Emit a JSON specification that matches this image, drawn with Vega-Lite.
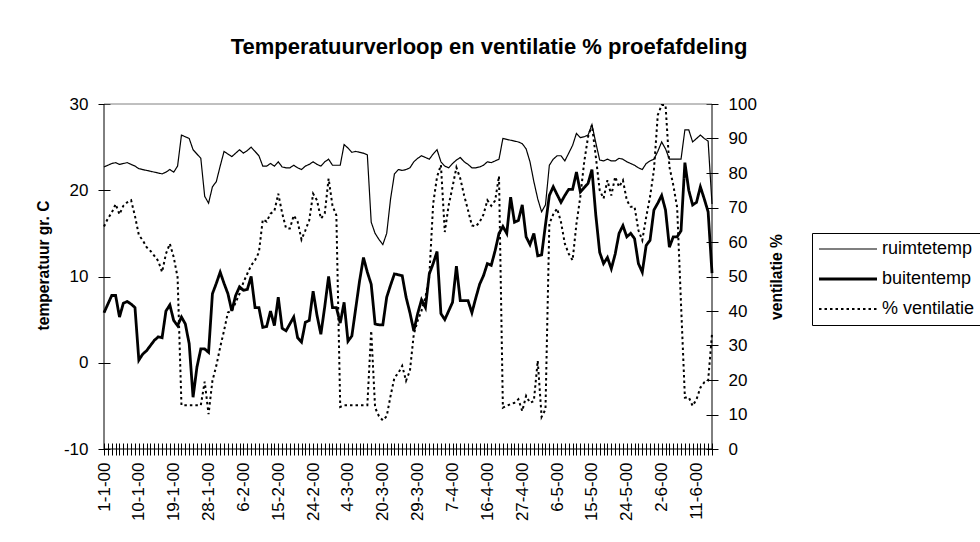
{
"$schema": "https://vega.github.io/schema/vega-lite/v6.json",
"width": 608, "height": 345,
"autosize": {"type": "none"},
"padding": {"left": 104, "top": 104, "right": 268, "bottom": 93},
"background": "white",
"config": {"view": {"stroke": null}, "font": "Liberation Sans"},
"title": {"text": "Temperatuurverloop en ventilatie % proefafdeling", "font": "Liberation Sans", "fontSize": 22, "fontWeight": "bold", "color": "black", "frame": "group", "anchor": "middle", "dx": 81, "offset": 36},
"data": {"values": [
{"d":"1-1-00","r":22.7,"b":5.8,"v":64.5},
{"d":"2-1-00","r":22.9,"b":6.8,"v":66.8},
{"d":"3-1-00","r":23.1,"b":7.8,"v":68.5},
{"d":"4-1-00","r":23.2,"b":7.8,"v":71.0},
{"d":"5-1-00","r":23.0,"b":5.3,"v":68.0},
{"d":"6-1-00","r":23.1,"b":6.9,"v":70.5},
{"d":"7-1-00","r":23.2,"b":7.1,"v":71.5},
{"d":"8-1-00","r":23.0,"b":6.8,"v":72.1},
{"d":"9-1-00","r":22.8,"b":6.4,"v":67.5},
{"d":"10-1-00","r":22.5,"b":0.3,"v":62.0},
{"d":"11-1-00","r":22.4,"b":1.0,"v":60.5},
{"d":"12-1-00","r":22.3,"b":1.4,"v":58.5},
{"d":"13-1-00","r":22.2,"b":2.0,"v":57.4},
{"d":"14-1-00","r":22.1,"b":2.6,"v":56.0},
{"d":"15-1-00","r":22.0,"b":3.0,"v":54.5},
{"d":"16-1-00","r":21.9,"b":2.9,"v":51.3},
{"d":"17-1-00","r":22.1,"b":6.0,"v":56.6},
{"d":"18-1-00","r":22.4,"b":6.7,"v":59.5},
{"d":"19-1-00","r":22.1,"b":4.9,"v":55.6},
{"d":"20-1-00","r":22.8,"b":4.3,"v":49.8},
{"d":"21-1-00","r":26.4,"b":5.3,"v":12.7},
{"d":"22-1-00","r":26.2,"b":4.5,"v":12.7},
{"d":"23-1-00","r":26.0,"b":2.2,"v":12.7},
{"d":"24-1-00","r":24.7,"b":-4.0,"v":12.7},
{"d":"25-1-00","r":24.2,"b":-0.5,"v":12.7},
{"d":"26-1-00","r":23.7,"b":1.6,"v":12.7},
{"d":"27-1-00","r":19.3,"b":1.6,"v":19.5},
{"d":"28-1-00","r":18.5,"b":1.2,"v":10.1},
{"d":"29-1-00","r":20.4,"b":8.0,"v":19.8},
{"d":"30-1-00","r":21.0,"b":9.2,"v":24.1},
{"d":"31-1-00","r":22.8,"b":10.5,"v":29.5},
{"d":"1-2-00","r":24.5,"b":9.2,"v":34.3},
{"d":"2-2-00","r":24.2,"b":8.0,"v":39.6},
{"d":"3-2-00","r":23.9,"b":6.0,"v":40.0},
{"d":"4-2-00","r":24.3,"b":7.8,"v":42.5},
{"d":"5-2-00","r":24.7,"b":8.8,"v":45.0},
{"d":"6-2-00","r":24.3,"b":8.4,"v":48.3},
{"d":"7-2-00","r":24.6,"b":8.5,"v":50.8},
{"d":"8-2-00","r":25.0,"b":10.0,"v":53.2},
{"d":"9-2-00","r":24.5,"b":6.4,"v":54.7},
{"d":"10-2-00","r":24.0,"b":6.4,"v":57.0},
{"d":"11-2-00","r":22.8,"b":4.1,"v":66.5},
{"d":"12-2-00","r":22.8,"b":4.2,"v":65.9},
{"d":"13-2-00","r":23.1,"b":6.0,"v":68.2},
{"d":"14-2-00","r":22.8,"b":4.3,"v":69.0},
{"d":"15-2-00","r":23.3,"b":7.6,"v":74.0},
{"d":"16-2-00","r":22.7,"b":4.0,"v":68.4},
{"d":"17-2-00","r":22.6,"b":3.7,"v":64.0},
{"d":"18-2-00","r":22.6,"b":4.5,"v":63.9},
{"d":"19-2-00","r":22.9,"b":5.3,"v":67.7},
{"d":"20-2-00","r":22.6,"b":2.9,"v":65.9},
{"d":"21-2-00","r":22.4,"b":2.4,"v":60.7},
{"d":"22-2-00","r":22.8,"b":4.7,"v":63.4},
{"d":"23-2-00","r":23.0,"b":4.9,"v":66.3},
{"d":"24-2-00","r":23.3,"b":8.3,"v":74.0},
{"d":"25-2-00","r":23.0,"b":5.5,"v":72.1},
{"d":"26-2-00","r":22.8,"b":3.3,"v":66.8},
{"d":"27-2-00","r":23.3,"b":6.5,"v":68.2},
{"d":"28-2-00","r":23.6,"b":10.0,"v":78.4},
{"d":"29-2-00","r":22.9,"b":6.4,"v":70.5},
{"d":"1-3-00","r":22.9,"b":6.4,"v":67.7},
{"d":"2-3-00","r":22.9,"b":4.6,"v":12.2},
{"d":"3-3-00","r":25.3,"b":7.0,"v":12.7},
{"d":"4-3-00","r":24.9,"b":2.5,"v":12.7},
{"d":"5-3-00","r":24.4,"b":3.1,"v":12.7},
{"d":"6-3-00","r":24.5,"b":6.3,"v":12.7},
{"d":"7-3-00","r":24.4,"b":9.5,"v":12.7},
{"d":"8-3-00","r":24.3,"b":12.2,"v":12.7},
{"d":"9-3-00","r":24.1,"b":10.5,"v":12.7},
{"d":"17-3-00","r":16.3,"b":9.1,"v":34.3},
{"d":"18-3-00","r":15.0,"b":4.5,"v":12.0},
{"d":"19-3-00","r":14.3,"b":4.4,"v":9.5},
{"d":"20-3-00","r":13.7,"b":4.4,"v":8.3},
{"d":"21-3-00","r":15.0,"b":7.6,"v":9.5},
{"d":"22-3-00","r":19.0,"b":9.0,"v":15.4},
{"d":"23-3-00","r":21.9,"b":10.3,"v":20.7},
{"d":"24-3-00","r":22.4,"b":10.2,"v":22.0},
{"d":"25-3-00","r":22.3,"b":10.1,"v":24.1},
{"d":"26-3-00","r":22.4,"b":7.6,"v":19.8},
{"d":"27-3-00","r":22.6,"b":5.8,"v":22.7},
{"d":"28-3-00","r":23.3,"b":3.7,"v":33.3},
{"d":"29-3-00","r":23.7,"b":5.7,"v":37.2},
{"d":"30-3-00","r":24.0,"b":7.3,"v":40.1},
{"d":"31-3-00","r":23.8,"b":6.4,"v":44.0},
{"d":"1-4-00","r":23.6,"b":10.3,"v":50.0},
{"d":"2-4-00","r":24.2,"b":11.5,"v":71.1},
{"d":"3-4-00","r":24.7,"b":12.9,"v":78.9},
{"d":"4-4-00","r":23.3,"b":5.7,"v":82.3},
{"d":"5-4-00","r":22.8,"b":5.0,"v":62.9},
{"d":"6-4-00","r":22.6,"b":6.0,"v":70.6},
{"d":"7-4-00","r":23.1,"b":7.0,"v":76.0},
{"d":"8-4-00","r":23.5,"b":11.2,"v":81.6},
{"d":"9-4-00","r":23.8,"b":7.2,"v":78.4},
{"d":"10-4-00","r":23.3,"b":7.2,"v":73.5},
{"d":"11-4-00","r":23.0,"b":7.2,"v":69.2},
{"d":"12-4-00","r":22.6,"b":5.8,"v":64.8},
{"d":"13-4-00","r":22.6,"b":7.5,"v":64.5},
{"d":"14-4-00","r":22.7,"b":9.1,"v":65.8},
{"d":"15-4-00","r":22.9,"b":10.1,"v":68.0},
{"d":"16-4-00","r":23.3,"b":11.5,"v":72.1},
{"d":"17-4-00","r":23.2,"b":11.3,"v":70.5},
{"d":"18-4-00","r":23.4,"b":13.0,"v":72.0},
{"d":"19-4-00","r":23.6,"b":15.0,"v":79.1},
{"d":"20-4-00","r":26.0,"b":15.8,"v":12.0},
{"d":"21-4-00","r":25.9,"b":15.0,"v":12.5},
{"d":"22-4-00","r":25.8,"b":19.2,"v":13.0},
{"d":"25-4-00","r":25.7,"b":16.3,"v":13.4},
{"d":"26-4-00","r":25.6,"b":16.5,"v":14.4},
{"d":"27-4-00","r":25.4,"b":18.3,"v":11.0},
{"d":"28-4-00","r":24.8,"b":14.6,"v":15.4},
{"d":"29-4-00","r":23.3,"b":13.7,"v":13.4},
{"d":"30-4-00","r":21.0,"b":15.0,"v":13.9},
{"d":"1-5-00","r":19.0,"b":12.4,"v":25.6},
{"d":"2-5-00","r":17.5,"b":12.5,"v":9.3},
{"d":"3-5-00","r":18.3,"b":16.0,"v":11.5},
{"d":"4-5-00","r":22.9,"b":19.4,"v":65.3},
{"d":"5-5-00","r":23.6,"b":20.4,"v":68.0},
{"d":"6-5-00","r":24.0,"b":19.5,"v":69.7},
{"d":"7-5-00","r":24.0,"b":18.6,"v":65.8},
{"d":"8-5-00","r":23.4,"b":19.4,"v":59.5},
{"d":"9-5-00","r":24.3,"b":20.1,"v":56.6},
{"d":"10-5-00","r":25.2,"b":20.1,"v":54.7},
{"d":"11-5-00","r":26.6,"b":22.1,"v":65.3},
{"d":"12-5-00","r":26.1,"b":19.8,"v":73.1},
{"d":"13-5-00","r":26.2,"b":20.3,"v":83.2},
{"d":"14-5-00","r":26.4,"b":20.8,"v":90.5},
{"d":"15-5-00","r":27.6,"b":22.4,"v":93.9},
{"d":"16-5-00","r":25.5,"b":17.1,"v":84.7},
{"d":"17-5-00","r":23.5,"b":12.8,"v":75.0},
{"d":"18-5-00","r":23.4,"b":11.5,"v":72.6},
{"d":"19-5-00","r":23.6,"b":12.2,"v":77.9},
{"d":"20-5-00","r":23.4,"b":10.9,"v":73.5},
{"d":"21-5-00","r":23.4,"b":12.6,"v":78.9},
{"d":"22-5-00","r":23.7,"b":15.0,"v":76.0},
{"d":"23-5-00","r":23.6,"b":15.9,"v":77.9},
{"d":"24-5-00","r":23.3,"b":14.6,"v":72.1},
{"d":"25-5-00","r":23.1,"b":15.0,"v":70.2},
{"d":"26-5-00","r":22.9,"b":14.4,"v":70.2},
{"d":"27-5-00","r":22.6,"b":11.5,"v":63.4},
{"d":"28-5-00","r":22.4,"b":10.5,"v":60.5},
{"d":"29-5-00","r":23.1,"b":13.6,"v":67.2},
{"d":"30-5-00","r":23.4,"b":14.2,"v":73.1},
{"d":"31-5-00","r":23.6,"b":17.7,"v":80.8},
{"d":"1-6-00","r":24.5,"b":18.5,"v":96.8},
{"d":"2-6-00","r":25.6,"b":19.4,"v":99.7},
{"d":"3-6-00","r":24.8,"b":17.7,"v":99.7},
{"d":"4-6-00","r":23.6,"b":13.4,"v":81.8},
{"d":"5-6-00","r":23.6,"b":14.6,"v":76.5},
{"d":"6-6-00","r":23.6,"b":14.6,"v":70.0},
{"d":"7-6-00","r":23.6,"b":15.3,"v":42.0},
{"d":"8-6-00","r":27.0,"b":23.2,"v":14.9},
{"d":"9-6-00","r":27.0,"b":20.0,"v":15.0},
{"d":"10-6-00","r":25.6,"b":18.3,"v":12.5},
{"d":"11-6-00","r":26.0,"b":18.6,"v":14.4},
{"d":"12-6-00","r":26.4,"b":20.4,"v":17.8},
{"d":"13-6-00","r":26.0,"b":19.0,"v":19.3},
{"d":"14-6-00","r":25.7,"b":17.5,"v":19.8},
{"d":"15-6-00","r":18.4,"b":10.4,"v":33.3}
]},
"transform": [{"fold": ["r", "b", "v"], "as": ["s", "val"]}],
"layer": [
{
"transform": [{"filter": "datum.s != 'v'"}],
"layer": [
{"data": {"values": [{}]}, "mark": {"type": "rule", "color": "#808080", "strokeWidth": 1}, "encoding": {"y": {"datum": 30, "type": "quantitative"}}},
{"data": {"values": [{}]}, "mark": {"type": "rule", "color": "black", "strokeWidth": 1}, "encoding": {"y": {"datum": -10, "type": "quantitative"}}},
{"data": {"values": [{}]}, "mark": {"type": "rule", "color": "black", "strokeWidth": 1}, "encoding": {"x": {"datum": "1-1-00", "type": "ordinal"}}},
{"data": {"values": [{}]}, "mark": {"type": "rule", "color": "black", "strokeWidth": 1}, "encoding": {"x": {"datum": "15-6-00", "type": "ordinal"}}},
{"mark": {"type": "line", "color": "black", "strokeJoin": "miter"},
 "encoding": {
  "x": {"field": "d", "type": "ordinal",
    "scale": {"type": "point", "padding": 0, "domain": ["1-1-00","2-1-00","3-1-00","4-1-00","5-1-00","6-1-00","7-1-00","8-1-00","9-1-00","10-1-00","11-1-00","12-1-00","13-1-00","14-1-00","15-1-00","16-1-00","17-1-00","18-1-00","19-1-00","20-1-00","21-1-00","22-1-00","23-1-00","24-1-00","25-1-00","26-1-00","27-1-00","28-1-00","29-1-00","30-1-00","31-1-00","1-2-00","2-2-00","3-2-00","4-2-00","5-2-00","6-2-00","7-2-00","8-2-00","9-2-00","10-2-00","11-2-00","12-2-00","13-2-00","14-2-00","15-2-00","16-2-00","17-2-00","18-2-00","19-2-00","20-2-00","21-2-00","22-2-00","23-2-00","24-2-00","25-2-00","26-2-00","27-2-00","28-2-00","29-2-00","1-3-00","2-3-00","3-3-00","4-3-00","5-3-00","6-3-00","7-3-00","8-3-00","9-3-00","17-3-00","18-3-00","19-3-00","20-3-00","21-3-00","22-3-00","23-3-00","24-3-00","25-3-00","26-3-00","27-3-00","28-3-00","29-3-00","30-3-00","31-3-00","1-4-00","2-4-00","3-4-00","4-4-00","5-4-00","6-4-00","7-4-00","8-4-00","9-4-00","10-4-00","11-4-00","12-4-00","13-4-00","14-4-00","15-4-00","16-4-00","17-4-00","18-4-00","19-4-00","20-4-00","21-4-00","22-4-00","25-4-00","26-4-00","27-4-00","28-4-00","29-4-00","30-4-00","1-5-00","2-5-00","3-5-00","4-5-00","5-5-00","6-5-00","7-5-00","8-5-00","9-5-00","10-5-00","11-5-00","12-5-00","13-5-00","14-5-00","15-5-00","16-5-00","17-5-00","18-5-00","19-5-00","20-5-00","21-5-00","22-5-00","23-5-00","24-5-00","25-5-00","26-5-00","27-5-00","28-5-00","29-5-00","30-5-00","31-5-00","1-6-00","2-6-00","3-6-00","4-6-00","5-6-00","6-6-00","7-6-00","8-6-00","9-6-00","10-6-00","11-6-00","12-6-00","13-6-00","14-6-00","15-6-00"]},
    "axis": {"title": null, "domain": false, "offset": -6, "tickSize": 12, "tickColor": "black", "tickWidth": 1, "labelAngle": -90, "labelFontSize": 17, "labelFont": "Liberation Sans", "labelColor": "black", "labelPadding": 7, "labelOverlap": false, "grid": false,
      "labelExpr": "indexof(['1-1-00','10-1-00','19-1-00','28-1-00','6-2-00','15-2-00','24-2-00','4-3-00','20-3-00','29-3-00','7-4-00','16-4-00','27-4-00','6-5-00','15-5-00','24-5-00','2-6-00','11-6-00'], datum.value) >= 0 ? datum.value : ''"}},
  "y": {"field": "val", "type": "quantitative",
    "scale": {"domain": [-10, 30], "nice": false, "zero": false},
    "axis": {"orient": "left", "title": "temperatuur gr. C", "titleY": 161, "values": [-10, 0, 10, 20, 30], "labelExpr": "'' + datum.value", "grid": false, "domain": false, "offset": -6, "tickSize": 12, "tickColor": "black", "labelFontSize": 17, "labelFont": "Liberation Sans", "labelColor": "black", "labelPadding": 10, "titleFont": "Liberation Sans", "titleFontSize": 15.6, "titleFontWeight": "bold", "titleColor": "black", "titlePadding": 12}},
  "strokeDash": {"field": "s", "type": "nominal",
    "scale": {"domain": ["r", "b", "v"], "range": [[1, 0], [1, 0], [2.5, 3]]},
    "legend": {"orient": "none", "legendX": 708, "legendY": 129, "title": null, "symbolType": "M-20,0H20", "symbolSize": 8.41, "symbolOffset": 20, "labelOffset": 25, "symbolStrokeColor": "black", "labelFontSize": 18, "labelFont": "Liberation Sans", "labelColor": "black", "strokeColor": "black", "fillColor": "white", "padding": 7, "rowPadding": 12, "labelExpr": "datum.value == 'r' ? 'ruimtetemp' : datum.value == 'b' ? 'buitentemp' : '% ventilatie'"}},
  "strokeWidth": {"field": "s", "type": "nominal",
    "scale": {"type": "ordinal", "domain": ["r", "b", "v"], "range": [1.2, 2.8, 2]},
    "legend": {"orient": "none", "legendX": 708, "legendY": 129, "title": null, "symbolType": "M-20,0H20", "symbolSize": 8.41, "symbolOffset": 20, "labelOffset": 25, "symbolStrokeColor": "black", "labelFontSize": 18, "labelFont": "Liberation Sans", "labelColor": "black", "strokeColor": "black", "fillColor": "white", "padding": 7, "rowPadding": 12, "labelExpr": "datum.value == 'r' ? 'ruimtetemp' : datum.value == 'b' ? 'buitentemp' : '% ventilatie'"}}
 }}
]
},
{
"transform": [{"filter": "datum.s == 'v'"}],
"mark": {"type": "line", "color": "black"},
"encoding": {
  "x": {"field": "d", "type": "ordinal",
    "axis": {"title": null, "domain": false, "offset": -6, "tickSize": 12, "tickColor": "black", "tickWidth": 1, "labelAngle": -90, "labelFontSize": 17, "labelFont": "Liberation Sans", "labelColor": "black", "labelPadding": 7, "labelOverlap": false, "grid": false,
      "labelExpr": "indexof(['1-1-00','10-1-00','19-1-00','28-1-00','6-2-00','15-2-00','24-2-00','4-3-00','20-3-00','29-3-00','7-4-00','16-4-00','27-4-00','6-5-00','15-5-00','24-5-00','2-6-00','11-6-00'], datum.value) >= 0 ? datum.value : ''"}},
  "y": {"field": "val", "type": "quantitative",
    "scale": {"domain": [0, 100], "nice": false},
    "axis": {"orient": "right", "title": "ventilatie %", "titleAngle": -90, "values": [0, 10, 20, 30, 40, 50, 60, 70, 80, 90, 100], "grid": false, "domain": false, "offset": -6, "tickSize": 12, "tickColor": "black", "labelFontSize": 17, "labelFont": "Liberation Sans", "labelColor": "black", "labelPadding": 10, "titleFont": "Liberation Sans", "titleFontSize": 15.6, "titleFontWeight": "bold", "titleColor": "black", "titlePadding": 28}},
  "strokeDash": {"field": "s", "type": "nominal", "scale": {"domain": ["r", "b", "v"], "range": [[1, 0], [1, 0], [2.5, 3]]}},
  "strokeWidth": {"field": "s", "type": "nominal", "scale": {"type": "ordinal", "domain": ["r", "b", "v"], "range": [1.2, 2.8, 2]}}
}
}
],
"resolve": {"scale": {"y": "independent"}}
}
